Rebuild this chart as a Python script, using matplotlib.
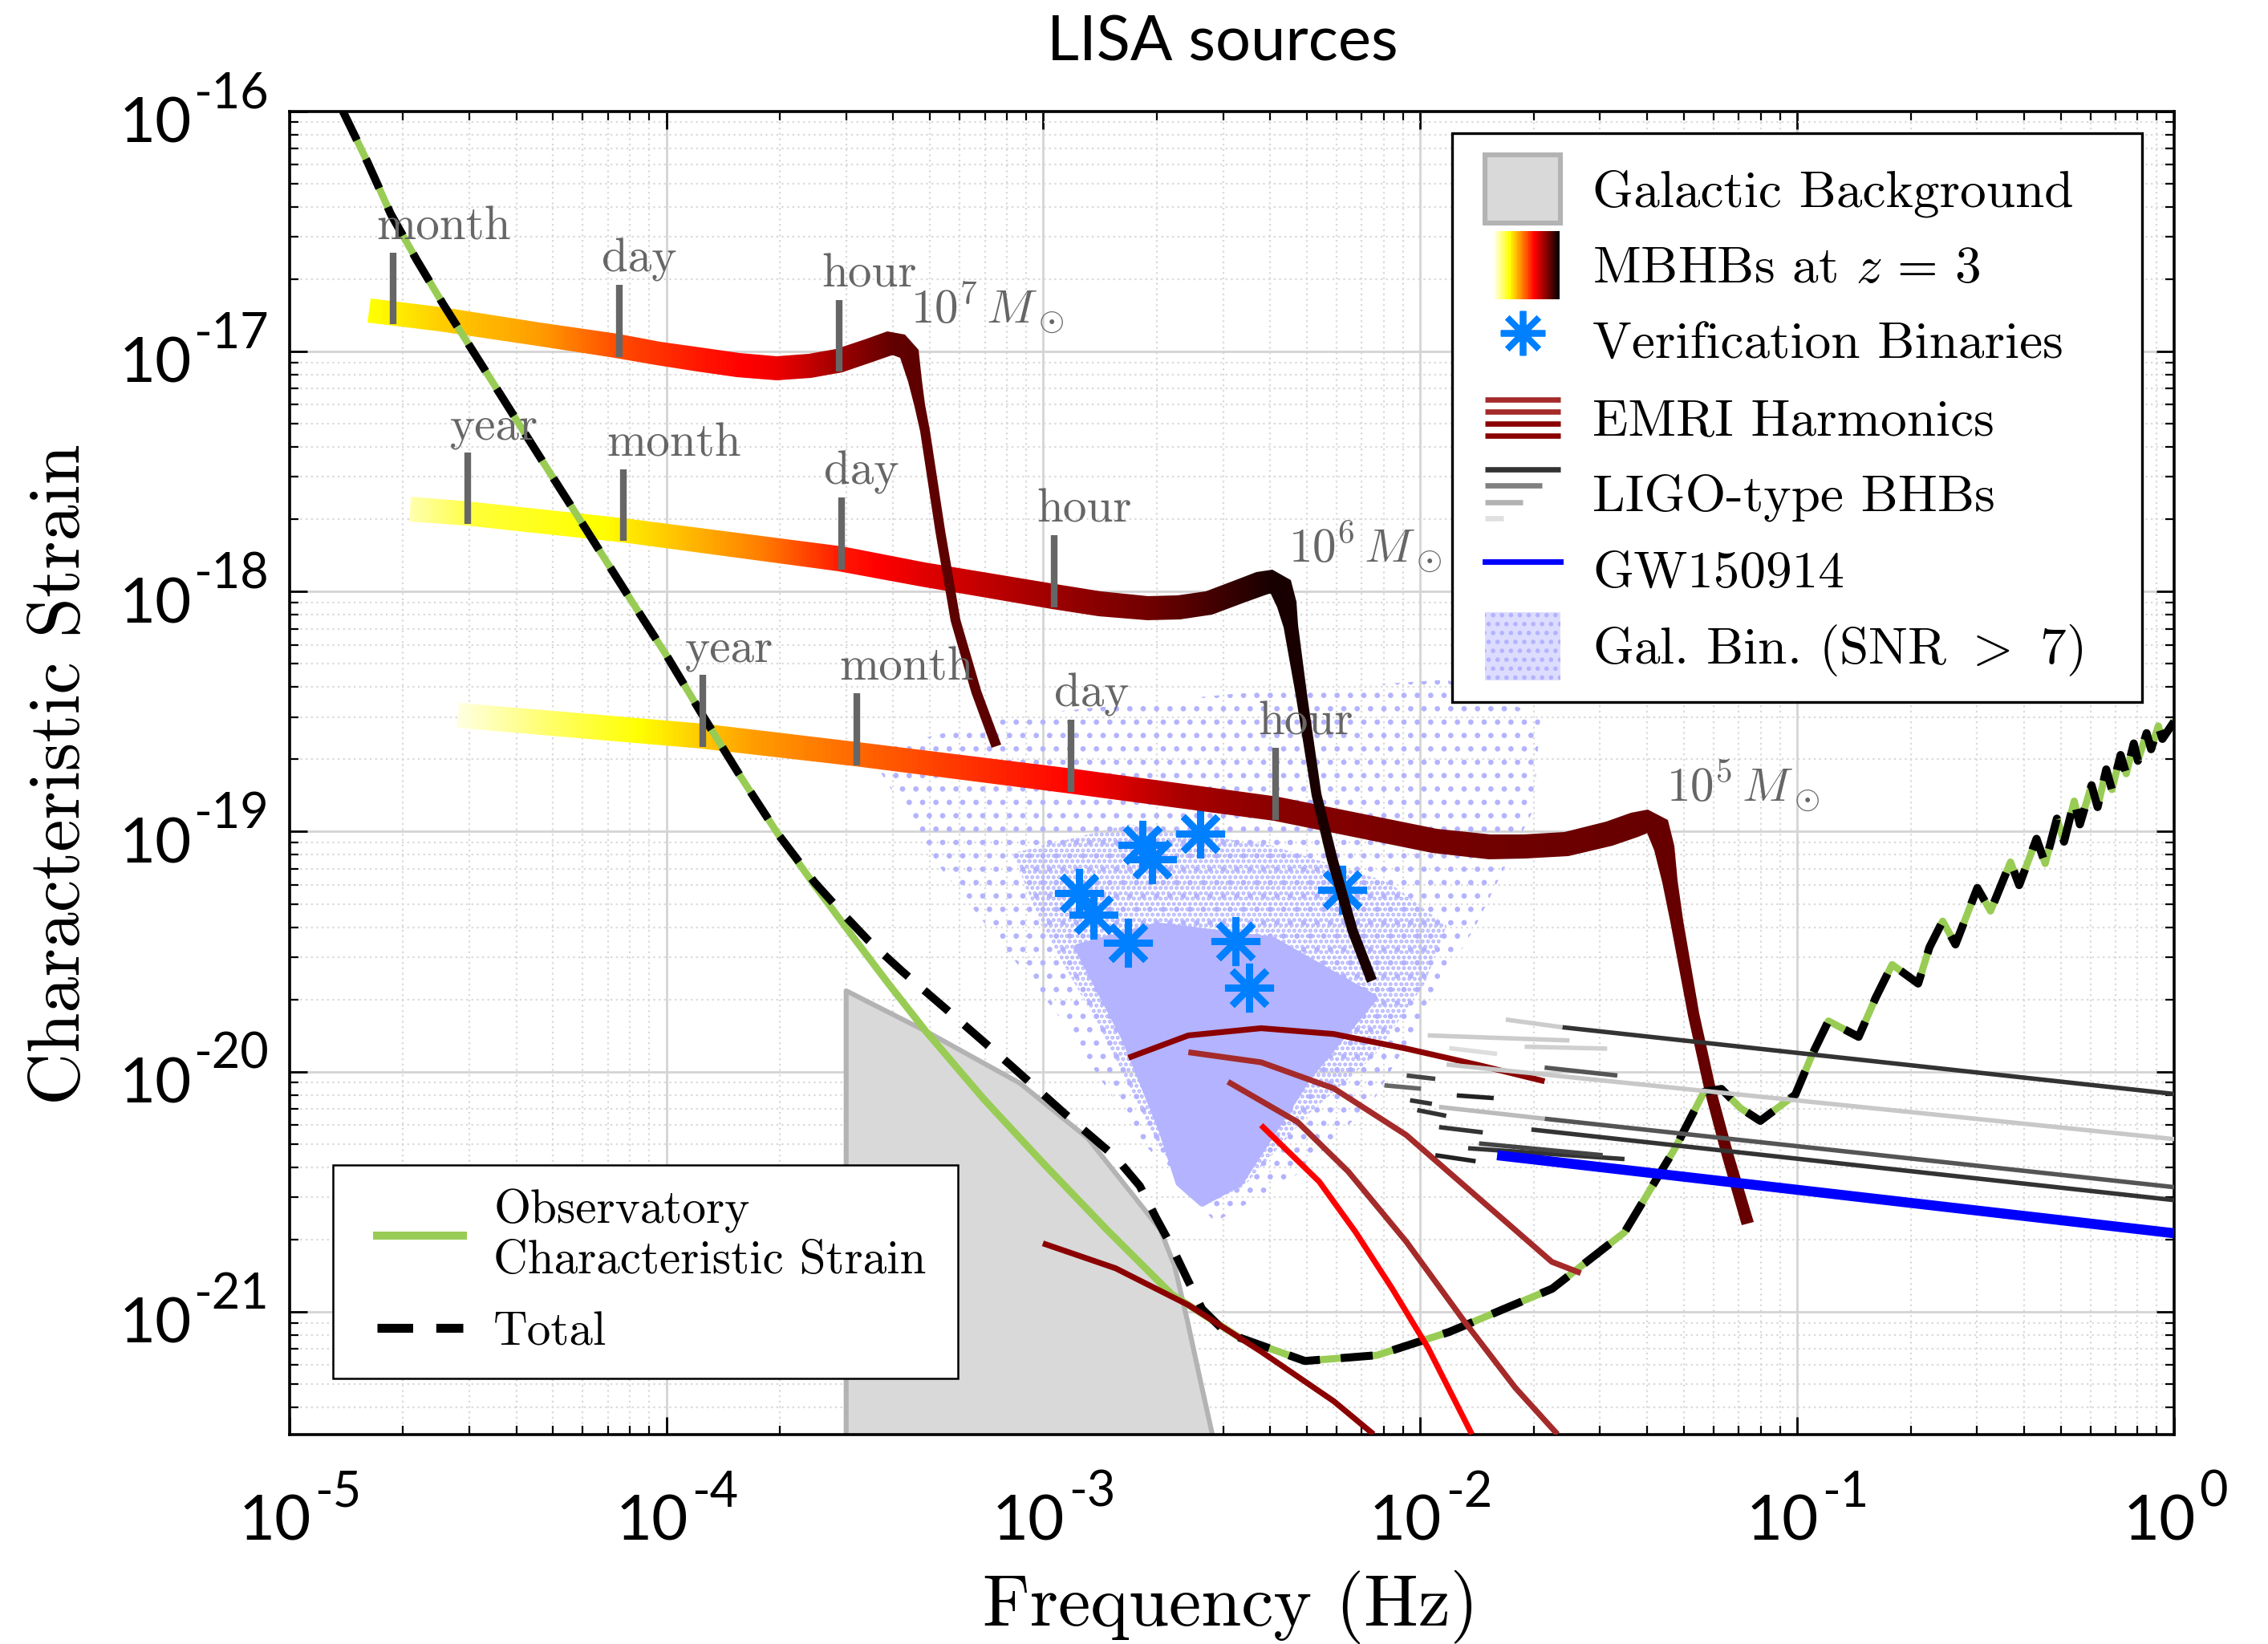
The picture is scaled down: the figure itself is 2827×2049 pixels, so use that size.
import numpy as np
import matplotlib
matplotlib.use("Agg")
import matplotlib.pyplot as plt
from matplotlib.patches import Polygon, Rectangle
from matplotlib.lines import Line2D
from matplotlib.legend_handler import HandlerBase, HandlerLine2D, HandlerPatch
from matplotlib.ticker import LogLocator, NullFormatter

# ---------------------------------------------------------------- data (log10 values)
# Observatory characteristic strain
sens_logf = [-4.858, -4.793, -4.731, -4.662, -4.593, -4.459, -4.321, -4.213, -4.106, -4.000,
             -3.903, -3.803, -3.703, -3.607, -3.507, -3.411, -3.312, -3.158, -3.001, -2.832,
             -2.659, -2.479, -2.306, -2.114, -1.923, -1.650, -1.458, -1.324, -1.247, -1.201,
             -1.151, -1.098, -1.005, -0.960, -0.917, -0.837, -0.792, -0.748, -0.679, -0.649,
             -0.614, -0.580, -0.522, -0.487, -0.434, -0.411, -0.365, -0.342, -0.311, -0.292,
             -0.265, -0.250, -0.219, -0.203, -0.180, -0.165, -0.142, -0.127, -0.107, -0.096,
             -0.073, -0.061, -0.042, -0.031, 0.0]
sens_logh = [-16.000, -16.211, -16.428, -16.620, -16.801, -17.133, -17.476, -17.741, -18.006, -18.265,
             -18.518, -18.771, -19.012, -19.223, -19.434, -19.633, -19.831, -20.114, -20.380, -20.657,
             -20.928, -21.108, -21.205, -21.181, -21.084, -20.904, -20.669, -20.319, -20.084, -20.072,
             -20.151, -20.205, -20.096, -19.928, -19.789, -19.855, -19.693, -19.554, -19.633, -19.482,
             -19.373, -19.470, -19.235, -19.331, -19.127, -19.223, -19.030, -19.133, -18.946, -19.042,
             -18.873, -18.970, -18.807, -18.898, -18.741, -18.825, -18.681, -18.759, -18.633, -18.705,
             -18.590, -18.657, -18.560, -18.614, -18.542]
# Total (sensitivity + galactic confusion): differs from the sensitivity in the mid band
total_mid_logf = [-3.607, -3.538, -3.465, -3.373, -3.239, -3.089, -2.943, -2.809, -2.744, -2.701,
                  -2.659, -2.617, -2.579, -2.529]
total_mid_logh = [-19.211, -19.331, -19.452, -19.584, -19.765, -19.970, -20.175, -20.355, -20.476,
                  -20.608, -20.729, -20.867, -20.988, -21.066]

# Galactic background
galbg_logf = [-3.523, -3.312, -3.062, -2.882, -2.763, -2.690, -2.652, -2.617, -2.583, -2.548]
galbg_logh = [-19.663, -19.831, -20.048, -20.277, -20.512, -20.657, -20.807, -21.042, -21.289, -21.536]

# MBHB tracks at z = 3
mbhb7_logf = [-4.789, -4.597, -4.340, -4.133, -4.022, -3.914, -3.810, -3.707, -3.619, -3.542,
              -3.463, -3.409, -3.381, -3.355, -3.341, -3.328, -3.314, -3.273, -3.233, -3.178, -3.124]
mbhb7_logh = [-16.831, -16.867, -16.928, -16.976, -17.009, -17.033, -17.056, -17.070, -17.061, -17.040,
              -16.996, -16.966, -16.973, -17.011, -17.123, -17.227, -17.331, -17.749, -18.120, -18.419,
              -18.645]
mbhb6_logf = [-4.680, -4.527, -4.113, -3.538, -3.319, -2.972, -2.851, -2.723, -2.640, -2.560,
              -2.479, -2.424, -2.397, -2.370, -2.354, -2.343, -2.315, -2.275, -2.234, -2.180, -2.128]
mbhb6_logh = [-17.657, -17.675, -17.745, -17.864, -17.928, -18.021, -18.051, -18.070, -18.067, -18.048,
              -17.999, -17.969, -17.958, -17.981, -18.055, -18.146, -18.428, -18.846, -19.114, -19.412,
              -19.622]
mbhb5_logf = [-4.553, -3.904, -3.494, -2.926, -2.383, -1.962, -1.815, -1.724, -1.612, -1.499,
              -1.432, -1.398, -1.370, -1.353, -1.337, -1.320, -1.275, -1.230, -1.186, -1.131]
mbhb5_logh = [-18.515, -18.602, -18.678, -18.790, -18.906, -19.040, -19.063, -19.062, -19.051, -19.009,
              -18.972, -18.959, -18.978, -19.069, -19.207, -19.373, -19.761, -20.080, -20.343, -20.633]
mbhb_masses = ["7", "6", "5"]
mbhb_peak_index = [11, 12, 11]

# time-to-merger marks on the tracks
mbhb7_tick_logf = [-4.724, -4.125, -3.542]
mbhb7_tick_names = ["month", "day", "hour"]
mbhb6_tick_logf = [-4.527, -4.113, -3.536, -2.972]
mbhb6_tick_names = ["year", "month", "day", "hour"]
mbhb5_tick_logf = [-3.904, -3.494, -2.926, -2.383]
mbhb5_tick_names = ["year", "month", "day", "hour"]

# Verification binaries
vb_logf = [-2.906, -2.867, -2.775, -2.738, -2.711, -2.583, -2.491, -2.454, -2.207]
vb_logh = [-19.256, -19.346, -19.462, -19.054, -19.114, -19.010, -19.458, -19.651, -19.241]

# EMRI harmonics
emri_a_logf = [-2.774, -2.615, -2.422, -2.230, -2.037, -1.844, -1.670]
emri_a_logh = [-19.942, -19.849, -19.819, -19.843, -19.904, -19.973, -20.040]
emri_b_logf = [-2.615, -2.422, -2.229, -2.037, -1.844, -1.651, -1.574]
emri_b_logh = [-19.919, -19.961, -20.070, -20.264, -20.528, -20.792, -20.839]
emri_c_logf = [-2.510, -2.325, -2.191, -2.037, -1.883, -1.748, -1.636]
emri_c_logh = [-20.042, -20.210, -20.416, -20.708, -21.040, -21.316, -21.510]
emri_d_logf = [-2.422, -2.268, -2.172, -2.075, -1.979, -1.863]
emri_d_logh = [-20.223, -20.458, -20.667, -20.902, -21.151, -21.510]
emri_e_logf = [-3.001, -2.808, -2.615, -2.422, -2.229, -2.124]
emri_e_logh = [-20.715, -20.819, -20.972, -21.166, -21.373, -21.510]

# LIGO-type BHB segments (start f, start h, end f, end h, grey level)
ligo_f0 = [-1.623, -1.930, -1.670, -1.705, -1.773, -1.950, -1.960, -1.873, -1.844, -1.950,
           -2.008, -1.903, -2.027, -2.095, -2.036, -1.670, -1.980, -1.923, -1.723]
ligo_h0 = [-19.815, -19.970, -20.196, -20.241, -19.783, -20.147, -20.348, -20.319, -20.299, -20.231,
           -20.160, -20.099, -20.119, -20.057, -20.016, -19.983, -19.849, -19.902, -19.896]
ligo_f1 = [0.0, 0.0, 0.0, 0.0, -1.623, -1.670, -1.853, -1.458, -1.516, -1.834,
           -1.931, -1.805, -1.969, -1.998, -1.960, -1.477, -1.604, -1.796, -1.504]
ligo_h1 = [-20.093, -20.281, -20.481, -20.535, -19.815, -20.196, -20.373, -20.364, -20.348, -20.253,
           -20.184, -20.110, -20.134, -20.071, -20.030, -20.016, -19.870, -19.926, -19.904]
ligo_grey = ["#333333", "#c8c8c8", "#555555", "#333333", "#cccccc", "#bbbbbb", "#222222", "#333333",
             "#444444", "#333333", "#333333", "#222222", "#333333", "#666666", "#444444", "#555555",
             "#cccccc", "#dddddd", "#d0d0d0"]

# GW150914
gw_logf = [-1.796, 0.0]
gw_logh = [-20.348, -20.673]

# Galactic binaries with SNR > 7: outline of sparse, medium and dense parts of the cloud
cloud_sparse_logf = [-3.465, -3.081, -2.506, -1.930, -1.681, -1.700, -1.853, -1.988, -2.122, -2.314,
                     -2.544, -2.736, -2.966, -3.273]
cloud_sparse_logh = [-18.669, -18.518, -18.428, -18.367, -18.518, -18.910, -19.392, -19.753, -20.114,
                     -20.416, -20.627, -20.295, -19.753, -19.151]
cloud_mid_logf = [-3.081, -2.774, -2.391, -2.084, -1.930, -1.988, -2.122, -2.295, -2.467, -2.583,
                  -2.698, -2.851, -3.005]
cloud_mid_logh = [-19.090, -18.970, -19.060, -19.211, -19.392, -19.633, -19.934, -20.175, -20.476,
                  -20.566, -20.295, -19.813, -19.392]
cloud_core_logf = [-2.909, -2.698, -2.391, -2.122, -2.295, -2.479, -2.579, -2.640, -2.686, -2.782]
cloud_core_logh = [-19.482, -19.392, -19.452, -19.693, -20.018, -20.464, -20.548, -20.464, -20.241,
                   -19.867]

x_tick_exp = [-5, -4, -3, -2, -1, 0]
y_tick_exp = [-16, -17, -18, -19, -20, -21]

# ---------------------------------------------------------------- style
GREEN = "#99cc55"
LAV = "#b3b3ff"
GREY_TXT = "#666666"
VB_BLUE = "#0080ff"
CMAP = matplotlib.colormaps["hot_r"]

# colour anchors of each MBHB track along log f (colormap position)
col7_lf = [-4.789, -4.597, -4.340, -4.133, -3.914, -3.707, -3.542, -3.396, -3.120]
col7_v = [0.25, 0.33, 0.40, 0.52, 0.60, 0.66, 0.78, 0.87, 0.88]
col6_lf = [-4.681, -4.501, -4.156, -3.745, -3.534, -3.312, -2.974, -2.724, -2.560, -2.391, -2.122]
col6_v = [0.08, 0.20, 0.26, 0.45, 0.60, 0.68, 0.78, 0.845, 0.91, 0.98, 0.98]
col5_lf = [-4.555, -4.309, -4.075, -3.772, -3.496, -3.235, -2.928, -2.640, -2.383, -1.961, -1.719,
           -1.393, -1.124]
col5_v = [0.03, 0.15, 0.254, 0.40, 0.48, 0.55, 0.63, 0.76, 0.81, 0.84, 0.85, 0.86, 0.86]
# half thickness (pt) of each track band at each point
hw7 = [5.4] * 13 + [4.6, 3.1, 2.5, 2.3, 2.2, 2.2, 2.2, 2.2]
hw6 = [5.5] * 14 + [4.6, 3.3, 2.5, 2.3, 2.3, 2.3, 2.3]
hw5 = [5.5] * 13 + [4.6, 3.5, 2.9, 2.7, 2.7, 2.7, 2.7]

plt.rcParams.update({
    "mathtext.fontset": "cm",
    "font.family": ["cmr10", "DejaVu Sans"],
    "axes.formatter.use_mathtext": True,
    "hatch.linewidth": 1.2,
})

W, H, DPI = 2827, 2049, 200
fig = plt.figure(figsize=(W / DPI, H / DPI), dpi=DPI)
ax = fig.add_axes([0.1276, 0.1274, 0.8310, 0.8049])
ax.set_xscale("log")
ax.set_yscale("log")
ax.set_xlim(1e-5, 1.0)
ax.set_ylim(3.08e-22, 1e-16)
ax.set_autoscale_on(False)

for axis in (ax.xaxis, ax.yaxis):
    axis.set_major_locator(LogLocator(base=10, numticks=30))
    axis.set_minor_locator(LogLocator(base=10, subs=np.arange(2, 10), numticks=300))
    axis.set_major_formatter(NullFormatter())
    axis.set_minor_formatter(NullFormatter())
ax.grid(True, which="major", color="#d4d4d4", lw=1.0, ls="-")
ax.grid(True, which="minor", color="#d9d9d9", lw=0.8, ls=(0, (1, 2)))
ax.set_axisbelow(True)
ax.tick_params(which="both", direction="in", top=True, right=True, color="black")
ax.tick_params(which="major", length=8, width=1.0)
ax.tick_params(which="minor", length=4, width=0.8)
for s in ax.spines.values():
    s.set_linewidth(1.3)


def P(a):
    return 10.0 ** np.asarray(a, dtype=float)


# ---------------------------------------------------------------- galactic background
gbf, gbh = P(galbg_logf), P(galbg_logh)
px = np.concatenate([[gbf[0]], gbf, [gbf[-1]]])
py = np.concatenate([[1e-23], gbh, [1e-23]])
ax.fill(px, py, facecolor="#d9d9d9", edgecolor="none", zorder=1.2)
ax.plot(px[:-1], py[:-1], color="#b3b3b3", lw=2.2, zorder=1.25, solid_joinstyle="round")

# ---------------------------------------------------------------- galactic binaries cloud
ax.add_patch(Polygon(np.column_stack([P(cloud_sparse_logf), P(cloud_sparse_logh)]), closed=True,
                     facecolor="none", edgecolor=LAV, lw=0, hatch="..", zorder=1.3))
ax.add_patch(Polygon(np.column_stack([P(cloud_mid_logf), P(cloud_mid_logh)]), closed=True,
                     facecolor="none", edgecolor=LAV, lw=0, hatch=".....", zorder=1.31))
ax.add_patch(Polygon(np.column_stack([P(cloud_core_logf), P(cloud_core_logh)]), closed=True,
                     facecolor=LAV, edgecolor=LAV, lw=3, joinstyle="round", zorder=1.32))

# ---------------------------------------------------------------- verification binaries
ax.plot(P(vb_logf), P(vb_logh), ls="none", marker=(8, 2, 0), ms=22, mew=3.0, color=VB_BLUE,
        zorder=1.9)


# ---------------------------------------------------------------- MBHB tracks
def band_patch(lf, lh, hw):
    xy = np.column_stack([P(lf), P(lh)])
    p = ax.transData.transform(xy)
    d = np.gradient(p, axis=0)
    d = d / np.hypot(d[:, 0], d[:, 1])[:, None]
    n = np.column_stack([-d[:, 1], d[:, 0]])
    w = np.asarray(hw, dtype=float)[:, None] * fig.dpi / 72.0
    outline = np.vstack([p + n * w, (p - n * w)[::-1]])
    return Polygon(ax.transData.inverted().transform(outline), closed=True,
                   transform=ax.transData, facecolor="none", edgecolor="none")


def draw_track(lf, lh, hw, c_lf, c_v, z):
    clip = band_patch(lf, lh, hw)
    xe = np.linspace(min(lf) - 0.03, max(lf) + 0.03, 700)
    xc = 0.5 * (xe[1:] + xe[:-1])
    cv = np.interp(xc, c_lf, c_v)
    mesh = ax.pcolormesh(P(xe), np.array([1e-23, 1e-15]), cv[None, :], cmap=CMAP, vmin=0, vmax=1,
                         shading="flat", zorder=z)
    mesh.set_clip_path(clip)


draw_track(mbhb5_logf, mbhb5_logh, hw5, col5_lf, col5_v, 2.00)
draw_track(mbhb6_logf, mbhb6_logh, hw6, col6_lf, col6_v, 2.01)
draw_track(mbhb7_logf, mbhb7_logh, hw7, col7_lf, col7_v, 2.02)


def draw_time_ticks(lf, lh, peak, tick_lf, names):
    th = np.interp(tick_lf, lf[:peak + 1], lh[:peak + 1])
    for tf, h, nm in zip(tick_lf, th, names):
        ax.plot([10 ** tf, 10 ** tf], [10 ** (h - 0.045), 10 ** (h + 0.255)], color=GREY_TXT, lw=3,
                solid_capstyle="butt", zorder=2.9)
        ax.text(10 ** (tf - 0.046), 10 ** (h + 0.31), nm, color=GREY_TXT, fontsize=21.3,
                family="cmr10", ha="left", va="baseline", zorder=2.9)


draw_time_ticks(mbhb7_logf, mbhb7_logh, mbhb_peak_index[0], mbhb7_tick_logf, mbhb7_tick_names)
draw_time_ticks(mbhb6_logf, mbhb6_logh, mbhb_peak_index[1], mbhb6_tick_logf, mbhb6_tick_names)
draw_time_ticks(mbhb5_logf, mbhb5_logh, mbhb_peak_index[2], mbhb5_tick_logf, mbhb5_tick_names)

mass_label_logf = [-3.352, -2.350, -1.348]
mass_label_logh = [-16.8825, -17.877, -18.873]
for m, lf, lh in zip(mbhb_masses, mass_label_logf, mass_label_logh):
    ax.text(10 ** lf, 10 ** lh, r"$10^{%s}\,M_\odot$" % m, color=GREY_TXT, fontsize=21.3,
            ha="left", va="baseline", zorder=2.9)

# ---------------------------------------------------------------- sensitivity & total
total_logf = sens_logf[:13] + total_mid_logf + sens_logf[21:]
total_logh = sens_logh[:13] + total_mid_logh + sens_logh[21:]
ax.plot(P(sens_logf), P(sens_logh), color=GREEN, lw=3.2, zorder=2.5, solid_joinstyle="round",
        solid_capstyle="round")
ax.plot(P(total_logf), P(total_logh), color="black", lw=3.6, ls=(0, (4, 2.6)), zorder=2.6,
        dash_joinstyle="round")

# ---------------------------------------------------------------- EMRIs
for lf, lh, c in [(emri_a_logf, emri_a_logh, "#8b0000"), (emri_b_logf, emri_b_logh, "#a52a2a"),
                  (emri_c_logf, emri_c_logh, "#a52a2a"), (emri_d_logf, emri_d_logh, "#ff0000"),
                  (emri_e_logf, emri_e_logh, "#8b0000")]:
    ax.plot(P(lf), P(lh), color=c, lw=2.6, zorder=2.7, solid_capstyle="butt",
            solid_joinstyle="round")

# ---------------------------------------------------------------- LIGO-type BHBs & GW150914
for f0, h0, f1, h1, g in zip(ligo_f0, ligo_h0, ligo_f1, ligo_h1, ligo_grey):
    ax.plot(P([f0, f1]), P([h0, h1]), color=g, lw=2.0, zorder=2.7, solid_capstyle="butt")
ax.plot(P(gw_logf), P(gw_logh), color="#0000ff", lw=4.5, zorder=2.75, solid_capstyle="butt")

# ---------------------------------------------------------------- tick labels
for e in y_tick_exp:
    ax.annotate("10", xy=(0, 10.0 ** e), xycoords=("axes fraction", "data"), xytext=(-44, -14),
                textcoords="offset points", ha="right", va="baseline", fontsize=28, family="Lato")
    ax.annotate("%d" % e, xy=(0, 10.0 ** e), xycoords=("axes fraction", "data"),
                xytext=(-43, 1.5), textcoords="offset points", ha="left", va="baseline",
                fontsize=22, family="Lato")
for e in x_tick_exp:
    ax.annotate("10", xy=(10.0 ** e, 0), xycoords=("data", "axes fraction"), xytext=(9.7, -47.5),
                textcoords="offset points", ha="right", va="baseline", fontsize=28, family="Lato")
    ax.annotate("%d" % e, xy=(10.0 ** e, 0), xycoords=("data", "axes fraction"),
                xytext=(11.3, -32.4), textcoords="offset points", ha="left", va="baseline",
                fontsize=22, family="Lato")

fig.text(0.5389, 0.9736, "LISA sources", ha="center", va="center", fontsize=28, family="Lato")
fig.text(0.5427, 0.0224, "Frequency (Hz)", ha="center", va="center", fontsize=32.5, family="cmr10")
fig.text(0.0268, 0.529, "Characteristic Strain", ha="center", va="center", rotation=90,
         fontsize=32.5, family="cmr10")


# ---------------------------------------------------------------- legends
class GradHandle:
    pass


class EmriHandle:
    pass


class LigoHandle:
    pass


class HandlerGrad(HandlerBase):
    def create_artists(self, legend, orig_handle, xdescent, ydescent, width, height, fontsize, trans):
        n = 48
        x0 = -xdescent + 0.1 * width
        w = 0.88 * width
        arts = []
        for i in range(n):
            arts.append(Rectangle((x0 + w * i / n, -ydescent), w / n * 1.1, height,
                                  facecolor=CMAP(i / (n - 1)), edgecolor="none", transform=trans))
        return arts


class HandlerEmri(HandlerBase):
    def create_artists(self, legend, orig_handle, xdescent, ydescent, width, height, fontsize, trans):
        arts = []
        for y, c in zip([0.76, 0.59, 0.41, 0.24], ["#a52a2a", "#a52a2a", "#8b0000", "#8b0000"]):
            arts.append(Line2D([-xdescent, -xdescent + width], [-ydescent + y * height] * 2, color=c,
                               lw=2.4, solid_capstyle="butt", transform=trans))
        return arts


class HandlerLigo(HandlerBase):
    def create_artists(self, legend, orig_handle, xdescent, ydescent, width, height, fontsize, trans):
        arts = []
        for y, L, c in zip([0.86, 0.62, 0.38, 0.14], [1.0, 0.75, 0.5, 0.25],
                           ["#333333", "#808080", "#b3b3b3", "#e0e0e0"]):
            arts.append(Line2D([-xdescent, -xdescent + L * width], [-ydescent + y * height] * 2,
                               color=c, lw=2.4, solid_capstyle="butt", transform=trans))
        return arts


XP = 0.2
handles1 = [Rectangle((0, 0), 1, 1, facecolor="#d9d9d9", edgecolor="#b3b3b3", lw=2.2),
            GradHandle(),
            Line2D([], [], ls="none", marker=(8, 2, 0), ms=20, mew=2.8, color=VB_BLUE),
            EmriHandle(), LigoHandle(),
            Line2D([], [], color="#0000ff", lw=2.5),
            Rectangle((0, 0), 1, 1, facecolor="#dcdcff", edgecolor=LAV, lw=0, hatch="...")]
labels1 = ["Galactic Background", r"MBHBs at $z\,=\,3$", "Verification Binaries", "EMRI Harmonics",
           "LIGO-type BHBs", "GW150914", r"Gal. Bin. (SNR $>$ 7)"]
leg1 = ax.legend(handles1, labels1, loc="upper left", bbox_to_anchor=(0.617, 0.5, 0.366, 0.4836),
                 mode="expand", borderaxespad=0, prop={"family": "cmr10", "size": 23.5},
                 handlelength=1.65, handleheight=1.63, handletextpad=0.61, labelspacing=0.15,
                 borderpad=0.42, fancybox=False, edgecolor="black", framealpha=1,
                 handler_map={Rectangle: HandlerPatch(xpad=XP), Line2D: HandlerLine2D(xpad=XP),
                              GradHandle: HandlerGrad(xpad=XP), EmriHandle: HandlerEmri(xpad=XP),
                              LigoHandle: HandlerLigo(xpad=XP)})
leg1.get_frame().set_linewidth(1.2)
ax.add_artist(leg1)

handles2 = [Line2D([], [], color=GREEN, lw=3.6),
            Line2D([], [], color="black", lw=4, ls=(0, (4, 2.6)))]
leg2 = ax.legend(handles2, ["Observatory\nCharacteristic Strain", "Total"], loc="lower left",
                 bbox_to_anchor=(0.023, 0.0426, 0.3315, 0.16), mode="expand", borderaxespad=0,
                 prop={"family": "cmr10", "size": 21.3}, handlelength=2.25, handletextpad=0.64,
                 labelspacing=0.6, borderpad=0.5, fancybox=False, edgecolor="black",
                 framealpha=1, handler_map={Line2D: HandlerLine2D(xpad=0.43)})
leg2.get_frame().set_linewidth(0.9)

fig.savefig("out.png", dpi=DPI)
